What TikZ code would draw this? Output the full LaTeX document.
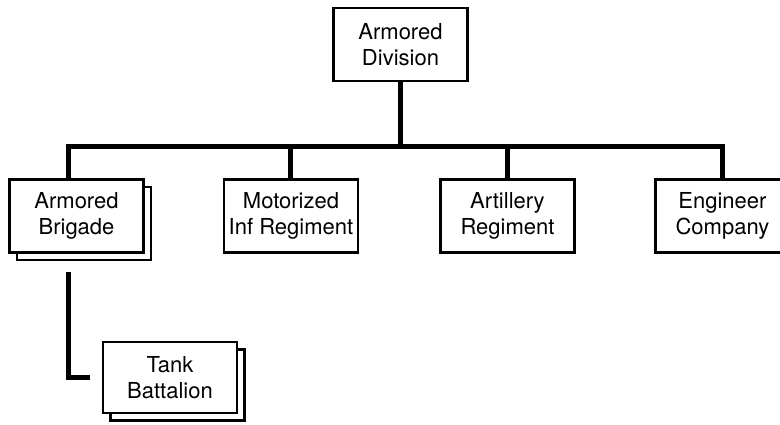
\documentclass[tikz,border=0pt]{standalone}
\usepackage{fontspec}
\setmainfont{TeX Gyre Heros}
\usetikzlibrary{positioning,shadows}

\begin{document}
\begin{tikzpicture}
  [node distance=215pt,on grid,
   unit/.style={rectangle,draw,line width=2.5pt,fill=white,align=center,
     minimum width=134pt,minimum height=73pt,inner sep=0pt,
     font=\fontsize{22}{26}\selectfont},
   stacked unit/.style={unit,copy shadow={shadow xshift=7.5pt,shadow yshift=-7.5pt}},
   link/.style={line width=5pt}]

  \clip (-400.5pt,44.5pt) rectangle (379.5pt,-379.5pt);

  % top level
  \node [unit] (div) at (0,0) {Armored\\Division};

  % second level
  \node [stacked unit] (brig) [below left=171.5pt and 324pt of div] {Armored\\Brigade};
  \node [unit] (mot) [right=214.5pt of brig] {Motorized\\Inf Regiment};
  \node [unit] (art) [right=216.5pt of mot]  {Artillery\\Regiment};
  \node [unit] (eng) [right=of art]          {Engineer\\Company};

  % third level
  \node [stacked unit,minimum height=71pt] (tank) [below right=161.5pt and 93.5pt of brig] {Tank\\Battalion};

  % connectors
  \coordinate (bar) at ([yshift=-64pt]div.south);
  \draw [link] (div.south) -- (bar);
  \draw [link] ([xshift=-7.5pt]brig.north) |- (bar) -| (eng.north);
  \draw [link] (mot.north) -- (mot.north |- bar);
  \draw [link] (art.north) -- (art.north |- bar);
  \draw [link,shorten <=18pt,shorten >=12pt] ([xshift=-7.5pt]brig.south) |- (tank.west);

\end{tikzpicture}
\end{document}
